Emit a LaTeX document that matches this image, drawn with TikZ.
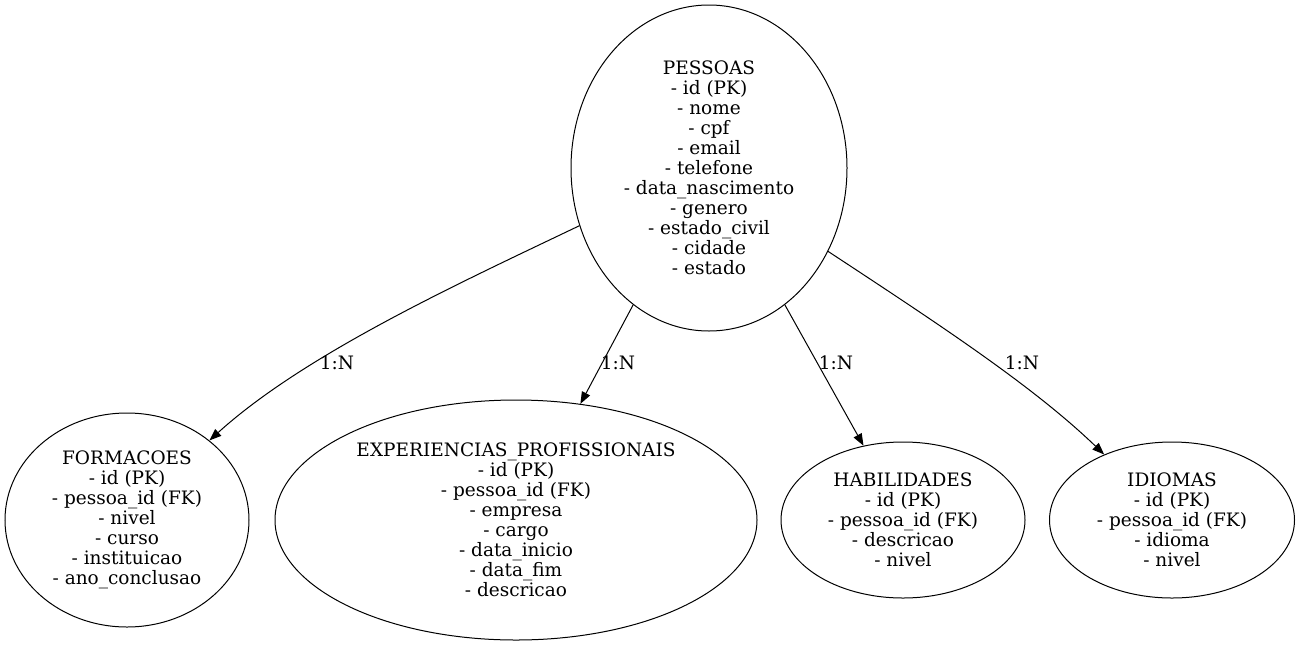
\documentclass[tikz,border=0pt]{standalone}
\usepackage{fontspec}
\setmainfont{DejaVu Serif}
\usetikzlibrary{shapes.geometric,arrows.meta}
\begin{document}
\begin{tikzpicture}[x=1pt,y=-1pt,
  ent/.style={draw,ellipse,inner sep=0pt,line width=1pt,align=center,
    font=\fontsize{18.5}{20}\selectfont},
  rel/.style={line width=1pt,-{Triangle[length=12pt,width=9pt]}},
  lbl/.style={font=\fontsize{18.5}{20}\selectfont,inner sep=0pt}]
\useasboundingbox (0,0) rectangle (1301,646);
\node[ent,minimum width=276pt,minimum height=326pt] (P) at (709,168)
  {PESSOAS\\- id (PK)\\- nome\\- cpf\\- email\\- telefone\\- data\_nascimento\\- genero\\- estado\_civil\\- cidade\\- estado};
\node[ent,minimum width=244pt,minimum height=214pt] (F) at (127,520)
  {FORMACOES\\- id (PK)\\- pessoa\_id (FK)\\- nivel\\- curso\\- instituicao\\- ano\_conclusao};
\node[ent,minimum width=482pt,minimum height=240pt] (E) at (516,520)
  {EXPERIENCIAS\_PROFISSIONAIS\\- id (PK)\\- pessoa\_id (FK)\\- empresa\\- cargo\\- data\_inicio\\- data\_fim\\- descricao};
\node[ent,minimum width=244pt,minimum height=156pt] (H) at (903,520)
  {HABILIDADES\\- id (PK)\\- pessoa\_id (FK)\\- descricao\\- nivel};
\node[ent,minimum width=245pt,minimum height=156pt] (I) at (1172,520)
  {IDIOMAS\\- id (PK)\\- pessoa\_id (FK)\\- idioma\\- nivel};
\draw[rel] (P.204.6) .. controls (462,282) and (306,353) .. (F.44);
\draw[rel] (P.241) -- (E.61);
\draw[rel] (P.299) -- (H.118);
\draw[rel] (P.325.6) .. controls (940,325) and (1033,386) .. (I.136);
\node[lbl] (l1) at (337,363) {1:N};
\node[lbl] (l2) at (618,363) {1:N};
\node[lbl] (l3) at (836,363) {1:N};
\node[lbl] (l4) at (1022,363) {1:N};
\end{tikzpicture}
\end{document}
